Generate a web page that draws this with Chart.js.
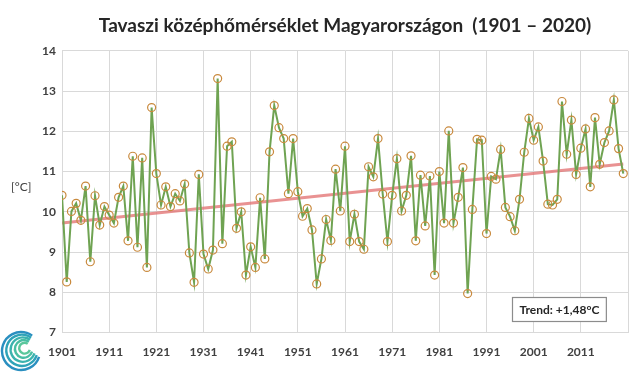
<!DOCTYPE html>
<html>
<head>
<meta charset="utf-8">
<script src="https://cdn.jsdelivr.net/npm/chart.js@4/dist/chart.umd.min.js"></script>
<style>
  html, body { margin: 0; padding: 0; background: #fff; }
  canvas { display: block; }
</style>
</head>
<body>
<canvas id="chart" width="640" height="374"></canvas>
<script>
const firstYear = 1901;
// spring mean temperature, 1901-2020
const springTemp = [
  10.41, 8.26, 10.01, 10.21, 9.79, 10.64, 8.76, 10.40, 9.67, 10.13,
  9.92, 9.72, 10.36, 10.64, 9.28, 11.38, 9.12, 11.34, 8.62, 12.59,
  10.95, 10.17, 10.62, 10.13, 10.45, 10.27, 10.69, 8.98, 8.25, 10.93,
  8.95, 8.58, 9.05, 13.31, 9.21, 11.63, 11.74, 9.59, 10.00, 8.43,
  9.13, 8.62, 10.35, 8.83, 11.49, 12.64, 12.09, 11.82, 10.45, 11.82,
  10.50, 9.89, 10.08, 9.55, 8.21, 8.83, 9.81, 9.29, 11.06, 10.02,
  11.63, 9.26, 9.94, 9.26, 9.07, 11.12, 10.87, 11.82, 10.44, 9.26,
  10.41, 11.32, 10.02, 10.41, 11.39, 9.28, 10.91, 9.65, 10.89, 8.43,
  11.00, 9.72, 12.01, 9.72, 10.36, 11.10, 7.97, 10.06, 11.80, 11.78,
  9.46, 10.88, 10.81, 11.55, 10.11, 9.88, 9.53, 10.31, 11.48, 12.32,
  11.78, 12.11, 11.26, 10.19, 10.17, 10.31, 12.74, 11.43, 12.28, 10.93,
  11.58, 12.06, 10.62, 12.34, 11.18, 11.72, 12.01, 12.78, 11.57, 10.95
];
const years = springTemp.map((v, i) => firstYear + i);
const xTicks = [1901, 1911, 1921, 1931, 1941, 1951, 1961, 1971, 1981, 1991, 2001, 2011, 2021];
const yTicks = [7, 8, 9, 10, 11, 12, 13, 14];
const trendLabel = 'Trend: +1,48°C';

// least squares trend of the series
const n = years.length;
const mx = years.reduce((a, b) => a + b, 0) / n;
const my = springTemp.reduce((a, b) => a + b, 0) / n;
let sxy = 0, sxx = 0;
years.forEach((x, i) => { sxy += (x - mx) * (springTemp[i] - my); sxx += (x - mx) * (x - mx); });
const slope = sxy / sxx;
const trendYears = [years[0], years[n - 1]];
const trendVals = trendYears.map(x => my + slope * (x - mx));

const FONT = 'Lato, "Open Sans", sans-serif';

const extras = {
  id: 'extras',
  afterDraw(chart) {
    const ctx = chart.ctx;
    ctx.save();
    // unit label
    ctx.fillStyle = '#404040';
    ctx.font = '12px ' + FONT;
    ctx.textAlign = 'left';
    ctx.textBaseline = 'middle';
    ctx.fillText('[°C]', 11, 187);
    // trend box
    ctx.font = 'bold 12px ' + FONT;
    const w = ctx.measureText(trendLabel).width + 14;
    const bx = 512, by = 297, bh = 24;
    ctx.fillStyle = '#fff';
    ctx.fillRect(bx, by, w, bh);
    ctx.strokeStyle = '#8c8c8c';
    ctx.lineWidth = 1.2;
    ctx.strokeRect(bx + 0.5, by + 0.5, w, bh);
    ctx.fillStyle = '#262626';
    ctx.textAlign = 'center';
    ctx.fillText(trendLabel, bx + w / 2 + 0.5, by + bh / 2 + 1);
    // logo spiral
    const cx = 21, cy = 351;
    const cols = ['#2a8fc0', '#2fa3b8', '#3bb3ae', '#49bea3', '#5ac79b'];
    for (let k = 0; k < 5; k++) {
      ctx.beginPath();
      ctx.strokeStyle = cols[k];
      ctx.lineWidth = 2.4;
      const r = 19 - k * 3.4;
      ctx.arc(cx + k * 0.9, cy - k * 0.7, r, Math.PI * 0.1, Math.PI * 1.7);
      ctx.stroke();
    }
    ctx.restore();
  }
};

new Chart(document.getElementById('chart'), {
  type: 'line',
  data: {
    datasets: [
      {
        label: 'Tavaszi középhőmérséklet',
        data: years.map((x, i) => ({ x, y: springTemp[i] })),
        borderColor: '#6fa352',
        borderWidth: 2,
        pointRadius: 4,
        pointBorderWidth: 1.2,
        pointBorderColor: '#c98a3e',
        pointBackgroundColor: 'rgba(255,255,255,0)',
        tension: 0,
        order: 1
      },
      {
        label: 'Trend',
        data: trendYears.map((x, i) => ({ x, y: trendVals[i] })),
        borderColor: 'rgba(225,110,110,0.75)',
        borderWidth: 3,
        pointRadius: 0,
        order: 2
      }
    ]
  },
  options: {
    responsive: false,
    animation: false,
    devicePixelRatio: 1,
    layout: { padding: { left: 0, right: 3, top: 0, bottom: 3 } },
    plugins: {
      legend: { display: false },
      tooltip: { enabled: false },
      title: {
        display: true,
        fullSize: false,
        text: 'Tavaszi középhőmérséklet Magyarországon  (1901 – 2020)',
        color: '#262626',
        font: { family: FONT, size: 19, weight: 'bold' },
        padding: { top: 14, bottom: 14 }
      }
    },
    scales: {
      x: {
        type: 'linear',
        min: 1901,
        max: 2021,
        afterBuildTicks: s => { s.ticks = xTicks.map(v => ({ value: v })); },
        ticks: {
          color: '#404040',
          font: { family: FONT, size: 12, weight: 'bold' },
          padding: 12,
          maxRotation: 0,
          callback: v => (v === 2021 ? '' : String(v))
        },
        grid: { color: '#d9d9d9', drawTicks: false },
        border: { color: '#d9d9d9' }
      },
      y: {
        min: 7,
        max: 14,
        afterBuildTicks: s => { s.ticks = yTicks.map(v => ({ value: v })); },
        afterFit: s => { s.width = 62; },
        ticks: {
          color: '#404040',
          font: { family: FONT, size: 12, weight: 'bold' },
          padding: 6
        },
        grid: { color: '#d9d9d9', drawTicks: false },
        border: { color: '#d9d9d9' }
      }
    }
  },
  plugins: [extras]
});
</script>
</body>
</html>
